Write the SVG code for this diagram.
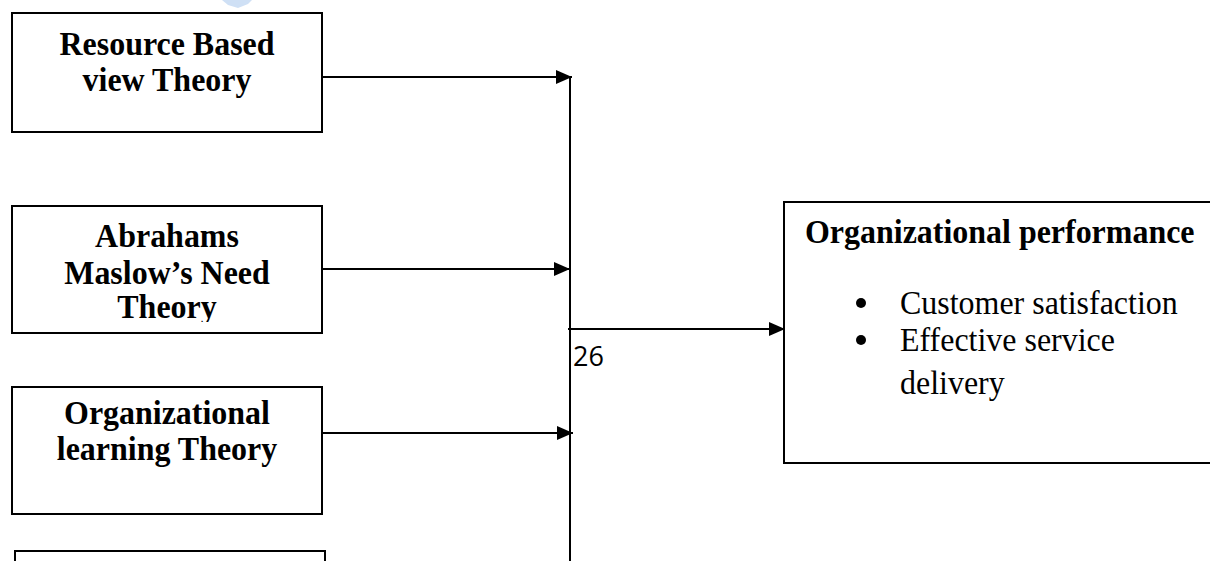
<svg xmlns="http://www.w3.org/2000/svg" width="1210" height="561" viewBox="0 0 1210 561">
<style>
.box{fill:#fff;stroke:#000;stroke-width:2}
.t{font-family:"Liberation Serif","Times New Roman",serif;font-size:34px;fill:#000}
.b{font-weight:bold}
.c{text-anchor:middle}
.dot{fill:#000}
.ln{stroke:#000;stroke-width:2;fill:none}
</style>
<defs>
<marker id="ah" markerWidth="16" markerHeight="14" refX="16" refY="7" orient="auto" markerUnits="userSpaceOnUse">
<path d="M0,0 L16,7 L0,14 Z" fill="#000"/>
</marker>
<clipPath id="clip2"><rect x="12" y="206" width="310" height="116"/></clipPath>
</defs>
<rect width="1210" height="561" fill="#fff"/>
<path d="M222,0 L252,0 L248,4 L238,8 L228,5 Z" fill="#cfe0f5"/>
<g id="node-rbv">
<rect class="box" x="12" y="13" width="310" height="119"/>
<text class="t b c" transform="matrix(0.94,0,0,1,167,0)" x="0" y="55">Resource Based</text>
<text class="t b c" transform="matrix(0.94,0,0,1,167,0)" x="0" y="91">view Theory</text>
</g>
<g id="node-maslow">
<rect class="box" x="12" y="206" width="310" height="127"/>
<g clip-path="url(#clip2)">
<text class="t b c" transform="matrix(0.94,0,0,1,167,0)" x="0" y="247">Abrahams</text>
<text class="t b c" transform="matrix(0.94,0,0,1,167,0)" x="0" y="284">Maslow’s Need</text>
<text class="t b c" transform="matrix(0.94,0,0,1,167,0)" x="0" y="318">Theory</text>
</g>
</g>
<g id="node-olt">
<rect class="box" x="12" y="387" width="310" height="127"/>
<text class="t b c" transform="matrix(0.94,0,0,1,167,0)" x="0" y="424">Organizational</text>
<text class="t b c" transform="matrix(0.94,0,0,1,167,0)" x="0" y="460">learning Theory</text>
</g>
<g id="node-fourth">
<rect class="box" x="15" y="551" width="310" height="40"/>
</g>
<g id="node-perf">
<rect class="box" x="784" y="202" width="440" height="261"/>
<text class="t b" transform="matrix(0.94,0,0,1,805,0)" x="0" y="243">Organizational performance</text>
<circle class="dot" cx="861" cy="303" r="5"/>
<text class="t" transform="matrix(0.94,0,0,1,900,0)" x="0" y="314">Customer satisfaction</text>
<circle class="dot" cx="861" cy="340" r="5"/>
<text class="t" transform="matrix(0.94,0,0,1,900,0)" x="0" y="351">Effective service</text>
<text class="t" transform="matrix(0.94,0,0,1,900,0)" x="0" y="394">delivery</text>
</g>
<g id="connectors">
<line class="ln" x1="570" y1="76" x2="570" y2="561"/>
<line class="ln" x1="322" y1="77" x2="572" y2="77" marker-end="url(#ah)"/>
<line class="ln" x1="322" y1="269" x2="570" y2="269" marker-end="url(#ah)"/>
<line class="ln" x1="322" y1="433" x2="573" y2="433" marker-end="url(#ah)"/>
<line class="ln" x1="568" y1="329" x2="785" y2="329" marker-end="url(#ah)"/>
</g>
<text x="573" y="366" font-family="'Open Sans','Noto Sans',sans-serif" font-size="27" fill="#000">26</text>
</svg>
